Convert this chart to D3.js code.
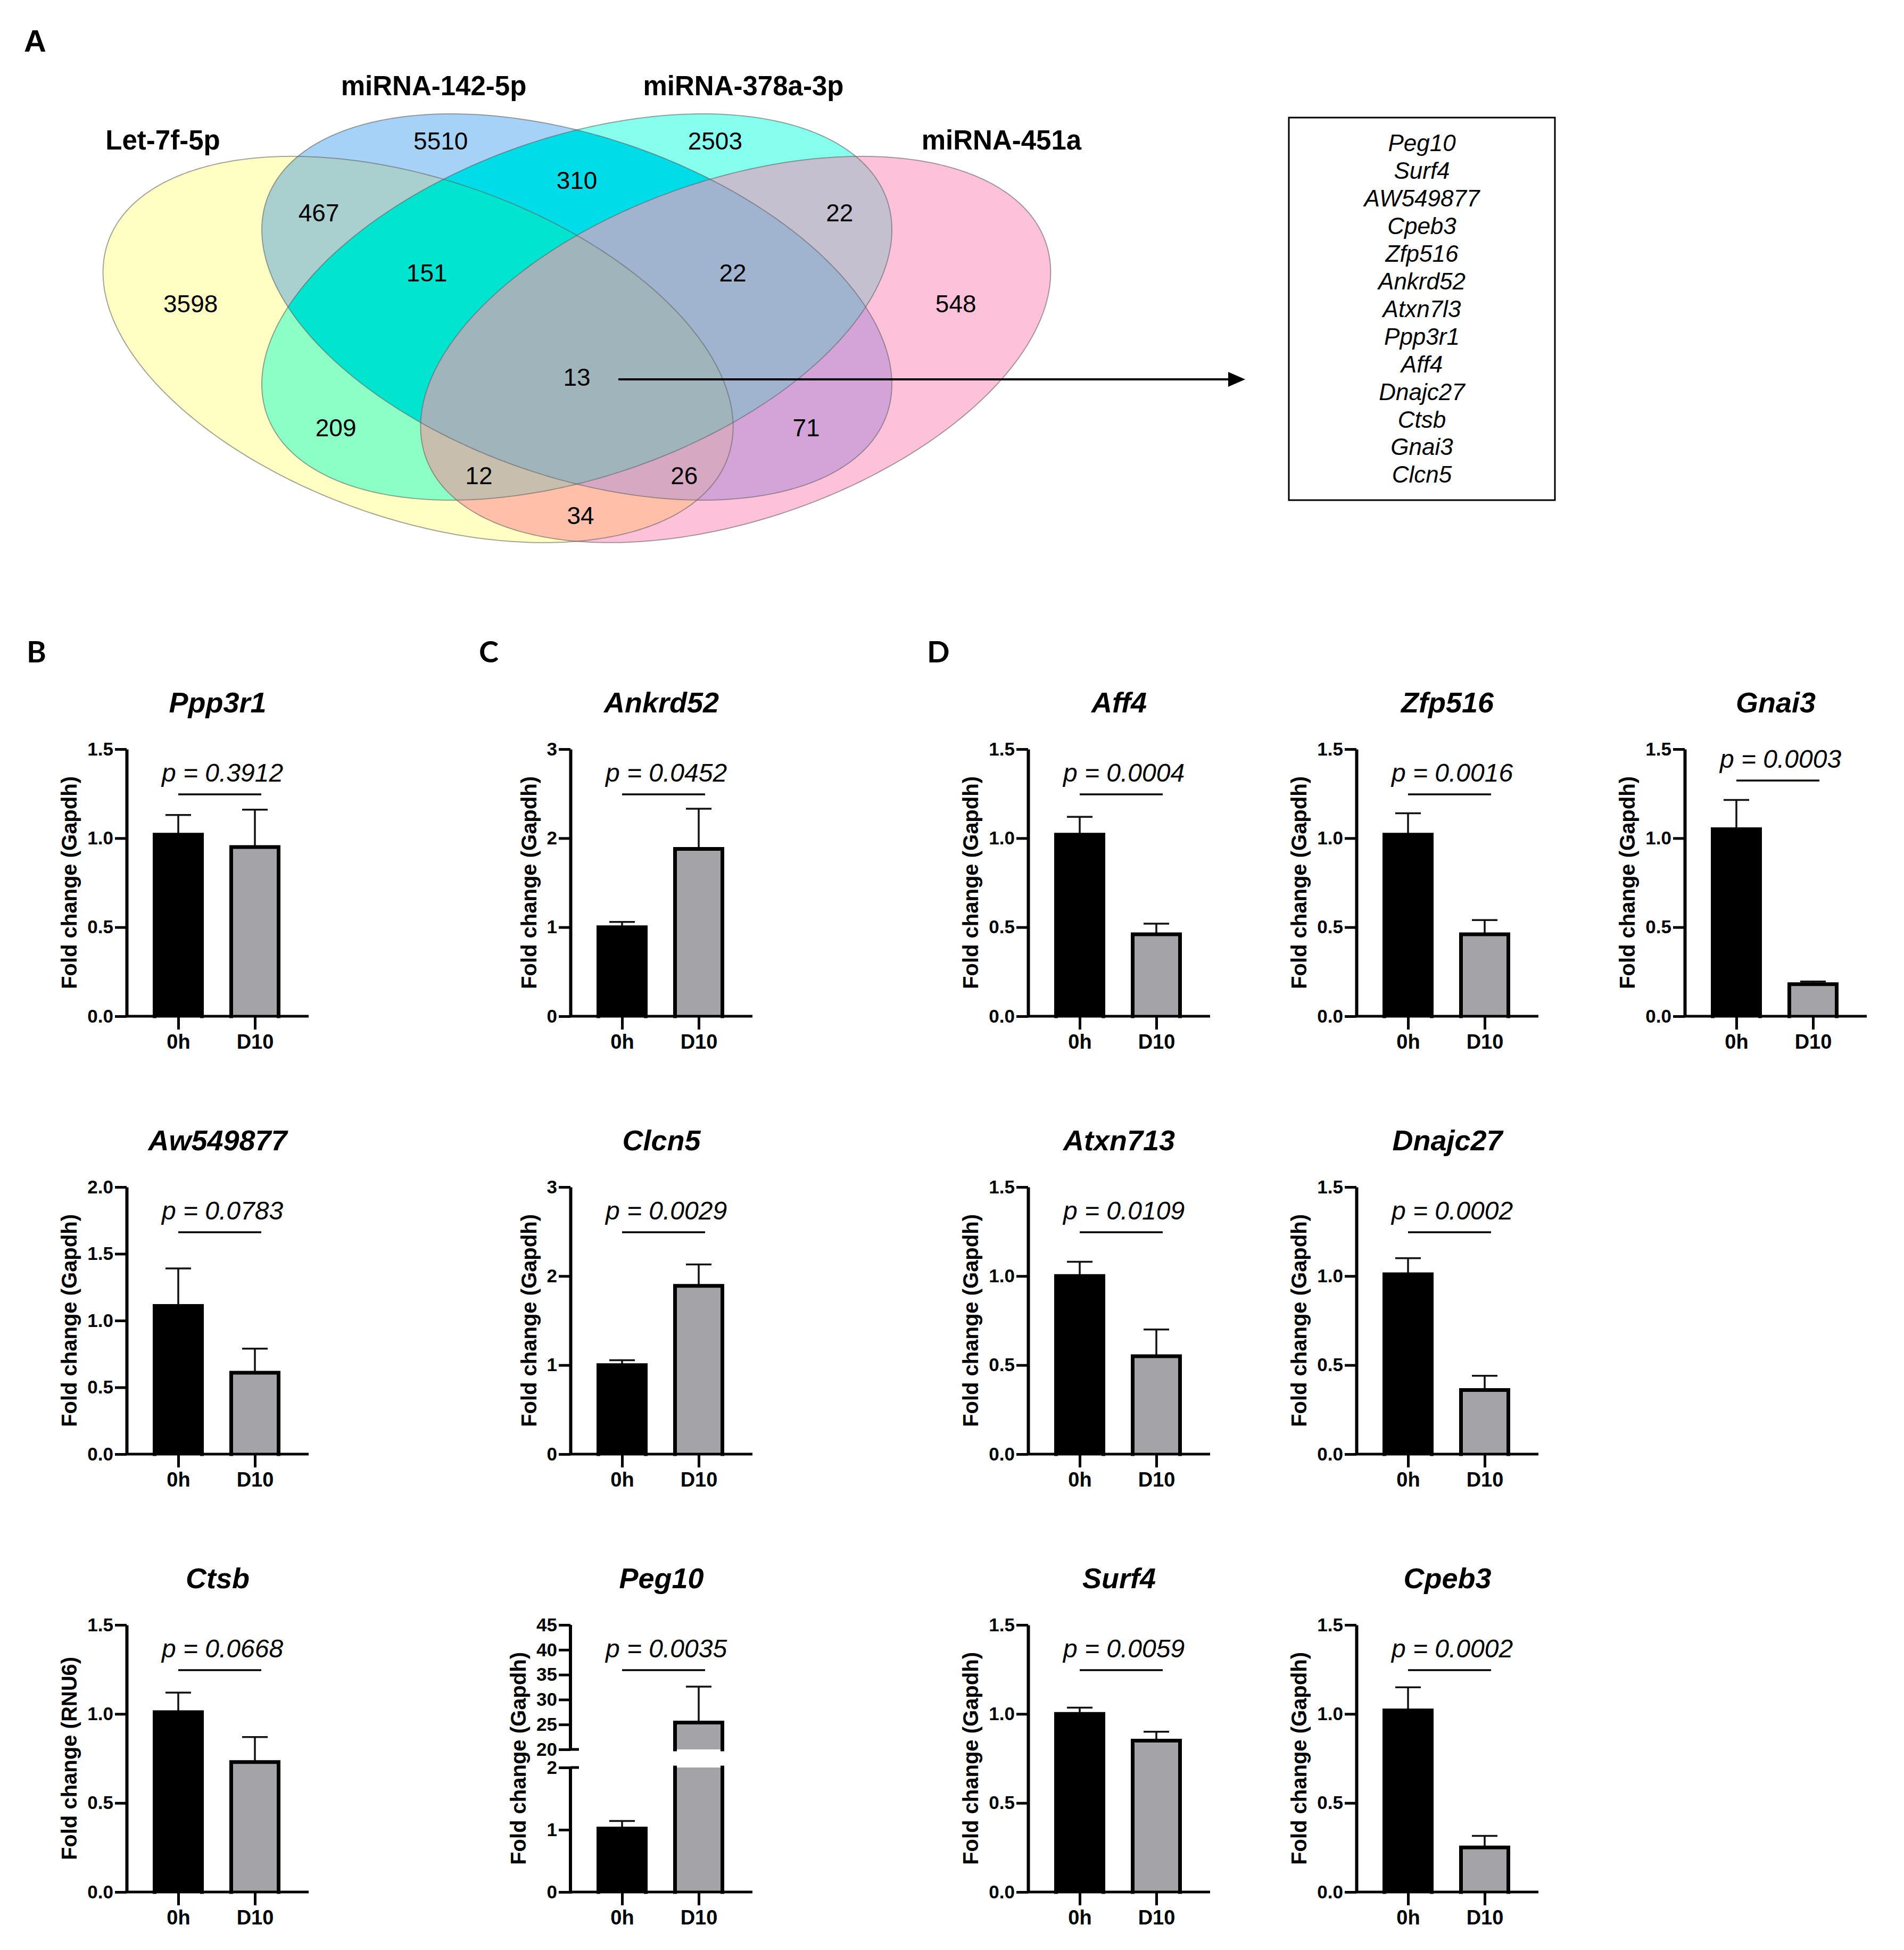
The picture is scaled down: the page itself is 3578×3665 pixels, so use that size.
<!DOCTYPE html>
<html>
<head>
<meta charset="utf-8">
<script src="https://cdn.jsdelivr.net/npm/d3@7"></script>
<style>
  body { margin: 0; background: #fff; }
  text { font-family: "Liberation Sans", Arial, sans-serif; fill: #000; }
</style>
</head>
<body>
<div id="fig"></div>
<script>
// ---- data: venn diagram ----
var vennSets = ["Let-7f-5p", "miRNA-142-5p", "miRNA-378a-3p", "miRNA-451a"];
// region codes: Y = Let-7f, B = 142, C = 378a, P = 451a
var vennRegions = ["Y", "B", "C", "P", "YB", "BC", "CP", "YBC", "BCP", "YBCP", "YC", "BP", "YCP", "YBP", "YP"];
var vennCounts = [3598, 5510, 2503, 548, 467, 310, 22, 151, 22, 13, 209, 71, 12, 26, 34];
var sharedGenes = ["Peg10", "Surf4", "AW549877", "Cpeb3", "Zfp516", "Ankrd52", "Atxn7l3",
                   "Ppp3r1", "Aff4", "Dnajc27", "Ctsb", "Gnai3", "Clcn5"];

// ---- data: qPCR bar charts ----
var groups = ["0h", "D10"];
var genes = ["Ppp3r1", "Ankrd52", "Aff4", "Zfp516", "Gnai3",
             "Aw549877", "Clcn5", "Atxn713", "Dnajc27",
             "Ctsb", "Peg10", "Surf4", "Cpeb3"];
var refGene = ["Gapdh", "Gapdh", "Gapdh", "Gapdh", "Gapdh",
               "Gapdh", "Gapdh", "Gapdh", "Gapdh",
               "RNU6", "Gapdh", "Gapdh", "Gapdh"];
var mean0h  = [1.02, 1.00, 1.02, 1.02, 1.05, 1.11, 1.00, 1.00, 1.01, 1.01, 1.02, 1.00, 1.02];
var err0h   = [0.11, 0.06, 0.10, 0.12, 0.165, 0.28, 0.055, 0.08, 0.09, 0.11, 0.12, 0.035, 0.13];
var meanD10 = [0.95, 1.88, 0.46, 0.46, 0.18, 0.61, 1.89, 0.55, 0.36, 0.73, 25.4, 0.85, 0.25];
var errD10  = [0.21, 0.45, 0.06, 0.08, 0.015, 0.18, 0.24, 0.15, 0.08, 0.14, 7.2, 0.05, 0.065];
var pValues = ["0.3912", "0.0452", "0.0004", "0.0016", "0.0003",
               "0.0783", "0.0029", "0.0109", "0.0002",
               "0.0668", "0.0035", "0.0059", "0.0002"];
var yTicks = [
  [0, 0.5, 1, 1.5], [0, 1, 2, 3], [0, 0.5, 1, 1.5], [0, 0.5, 1, 1.5], [0, 0.5, 1, 1.5],
  [0, 0.5, 1, 1.5, 2], [0, 1, 2, 3], [0, 0.5, 1, 1.5], [0, 0.5, 1, 1.5],
  [0, 0.5, 1, 1.5], [0, 1, 2, 20, 25, 30, 35, 40, 45], [0, 0.5, 1, 1.5], [0, 0.5, 1, 1.5]
];
var axisBreak = [null, null, null, null, null, null, null, null, null, null, [2, 20], null, null];

// ---- layout ----
var W = 3578, H = 3665;
var plotH = 502, axisLen = 342, barW = 96;
var colX = [238, 1072, 1932, 2549, 3166];
var rowY = [1910, 2733, 3556];
var chartCol = [0, 1, 2, 3, 4, 0, 1, 2, 3, 0, 1, 2, 3];
var chartRow = [0, 0, 0, 0, 0, 1, 1, 1, 1, 2, 2, 2, 2];
var bracketOff = [85, 85, 85, 85, 59, 85, 85, 85, 85, 85, 85, 85, 85];

var regionColor = {
  Y: "#FFFFC4", B: "#A6D2F7", C: "#86FFEE", P: "#FDC1D9",
  YB: "#A9CFCF", YC: "#8CFFC6", YP: "#FFBFA8", BC: "#00DDE8", BP: "#D4A4D8", CP: "#C4C0D0",
  YBC: "#00E4D0", YBP: "#D6A8C2", YCP: "#C8BEAE", BCP: "#A0B4D0", YBCP: "#A0B4BC"
};
var setCodes = ["Y", "B", "C", "P"];
// ellipse centres / tilt in normalised venn space
var ellCentre = [[-0.504, 0.22], [0, 0], [0, 0], [0.504, 0.22]];
var ellTilt = [45, 45, -45, -45];
var ellA = 1.183, ellB = 0.775;
var vennLabelPos = [[-1.226, -0.019], [-0.432, -0.862], [0.439, -0.862], [1.203, -0.019],
  [-0.819, -0.488], [0, -0.656], [0.834, -0.488], [-0.476, -0.179], [0.495, -0.179],
  [0, 0.361], [-0.765, 0.625], [0.728, 0.625], [-0.311, 0.871], [0.341, 0.871], [0.012, 1.077]];
var setLabelPos = [[306, 281], [815, 179], [1397, 179], [1882, 281]];

var svg = d3.select("#fig").append("svg")
    .attr("width", W)
    .attr("height", H);
svg.append("rect").attr("width", W).attr("height", H).attr("fill", "#fff");

// ================= panel A: venn =================
var vx = d3.scaleLinear().domain([-1, 1]).range([492, 1676]);
var vy = d3.scaleLinear().domain([-1, 1]).range([214, 940]);

function ellipsePts(k) {
  var phi = ellTilt[k] * Math.PI / 180, c = ellCentre[k];
  return d3.range(0, 360, 1).map(function(t) {
    t = t * Math.PI / 180;
    var u = ellA * Math.cos(t), v = ellB * Math.sin(t);
    return [c[0] + u * Math.cos(phi) - v * Math.sin(phi),
            c[1] + u * Math.sin(phi) + v * Math.cos(phi)];
  });
}
var ellLine = d3.line()
    .x(function(d) { return vx(d[0]); })
    .y(function(d) { return vy(d[1]); })
    .curve(d3.curveLinearClosed);

var defs = svg.append("defs");
setCodes.forEach(function(s, k) {
  defs.append("clipPath").attr("id", "clip" + s)
    .append("path").attr("d", ellLine(ellipsePts(k)));
});
vennRegions.forEach(function(r) {
  var m = defs.append("mask").attr("id", "mask" + r)
      .attr("maskUnits", "userSpaceOnUse")
      .attr("x", 0).attr("y", 0).attr("width", W).attr("height", 1200);
  m.append("rect").attr("width", W).attr("height", 1200).attr("fill", "#fff");
  setCodes.forEach(function(s, k) {
    if (r.indexOf(s) < 0)
      m.append("path").attr("d", ellLine(ellipsePts(k))).attr("fill", "#000");
  });
});

var venn = svg.append("g");
vennRegions.forEach(function(r) {
  var node = venn;
  r.split("").forEach(function(s) {
    node = node.append("g").attr("clip-path", "url(#clip" + s + ")");
  });
  node.append("rect")
    .attr("x", 0).attr("y", 0).attr("width", 2100).attr("height", 1100)
    .attr("fill", regionColor[r])
    .attr("mask", "url(#mask" + r + ")");
});
setCodes.forEach(function(s, k) {
  venn.append("path")
    .attr("d", ellLine(ellipsePts(k)))
    .attr("fill", "none")
    .attr("stroke", "rgba(90,90,90,0.55)")
    .attr("stroke-width", 2);
});

venn.selectAll(".count")
  .data(vennCounts)
  .enter().append("text")
    .attr("x", function(d, i) { return vx(vennLabelPos[i][0]); })
    .attr("y", function(d, i) { return vy(vennLabelPos[i][1]); })
    .attr("dy", "0.36em")
    .attr("text-anchor", "middle")
    .style("font-size", "46px")
    .text(function(d) { return d; });

venn.selectAll(".setlab")
  .data(vennSets)
  .enter().append("text")
    .attr("x", function(d, i) { return setLabelPos[i][0]; })
    .attr("y", function(d, i) { return setLabelPos[i][1]; })
    .attr("text-anchor", "middle")
    .style("font-size", "51px")
    .style("font-weight", "bold")
    .text(function(d) { return d; });

// arrow from the 4-way overlap to the gene list
var arrowY = vy(vennLabelPos[9][1]) + 5;
svg.append("line")
  .attr("x1", 1162).attr("x2", 2312)
  .attr("y1", arrowY).attr("y2", arrowY)
  .attr("stroke", "#000").attr("stroke-width", 4);
svg.append("path")
  .attr("d", "M2308," + (arrowY - 14) + "L2340," + arrowY + "L2308," + (arrowY + 14) + "Z")
  .attr("fill", "#000");

// gene list box
svg.append("rect")
  .attr("x", 2422).attr("y", 221).attr("width", 500).attr("height", 719)
  .attr("fill", "none").attr("stroke", "#000").attr("stroke-width", 3);
var listY = d3.scalePoint().domain(sharedGenes).range([269, 892]);
svg.selectAll(".gene")
  .data(sharedGenes)
  .enter().append("text")
    .attr("x", 2672)
    .attr("y", function(d) { return listY(d); })
    .attr("dy", "0.35em")
    .attr("text-anchor", "middle")
    .style("font-size", "44px")
    .style("font-style", "italic")
    .text(function(d) { return d; });

// panel letters
svg.append("text").attr("x", 45).attr("y", 97)
  .style("font-size", "58px").style("font-weight", "bold").text("A");
[["B", 50], ["C", 900], ["D", 1742]].forEach(function(p) {
  svg.append("text").attr("x", p[1]).attr("y", 1245)
    .style("font-family", "Lato, 'Open Sans', sans-serif")
    .style("font-size", "56px").style("font-weight", "bold").text(p[0]);
});

// ================= panels B-D: bar charts =================
function drawChart(i) {
  var g = svg.append("g")
      .attr("transform", "translate(" + colX[chartCol[i]] + "," + (rowY[chartRow[i]] - plotH) + ")");
  var ticks = yTicks[i], top = ticks[ticks.length - 1], brk = axisBreak[i];
  var y = d3.scaleLinear()
      .domain(brk ? [0, brk[0], brk[1], top] : [0, top])
      .range(brk ? [plotH, plotH / 2 + 17, plotH / 2 - 17, 0] : [plotH, 0]);
  var x = d3.scalePoint().domain(groups).range([97, 241]);
  var fmt = top <= 2 ? d3.format(".1f") : d3.format("d");
  var segs = brk ? [[0, brk[0]], [brk[1], top]] : [[0, top]];

  // bars
  var vals = [mean0h[i], meanD10[i]], errs = [err0h[i], errD10[i]];
  groups.forEach(function(gr, j) {
    var v = vals[j], cx = x(gr);
    var xl = cx - barW / 2 + 3.5, xr = cx + barW / 2 - 3.5;
    var fill = j === 0 ? "#000" : "#A4A4A8";
    // error bar (upper only)
    g.append("line")
      .attr("x1", cx).attr("x2", cx)
      .attr("y1", y(v)).attr("y2", y(v + errs[j]))
      .attr("stroke", "#111").attr("stroke-width", 3.5);
    g.append("line")
      .attr("x1", cx - 24).attr("x2", cx + 24)
      .attr("y1", y(v + errs[j])).attr("y2", y(v + errs[j]))
      .attr("stroke", "#111").attr("stroke-width", 3.5);
    segs.forEach(function(s) {
      if (v <= s[0]) return;
      var t = Math.min(v, s[1]);
      g.append("rect")
        .attr("x", xl).attr("width", xr - xl)
        .attr("y", y(t)).attr("height", y(s[0]) - y(t))
        .attr("fill", fill);
      var d = v <= s[1]
        ? "M" + xl + "," + y(s[0]) + "V" + y(t) + "H" + xr + "V" + y(s[0])
        : "M" + xl + "," + y(s[0]) + "V" + y(t) + "M" + xr + "," + y(t) + "V" + y(s[0]);
      g.append("path").attr("d", d)
        .attr("fill", "none").attr("stroke", "#000")
        .attr("stroke-width", 7).attr("stroke-linecap", "square");
    });
  });

  // y axis
  var yAx = g.append("g")
      .call(d3.axisLeft(y).tickValues(ticks).tickFormat(fmt)
            .tickSize(22).tickSizeOuter(0).tickPadding(3));
  yAx.select(".domain").attr("stroke-width", 6);
  yAx.selectAll(".tick line").attr("stroke-width", 5);
  yAx.selectAll("text").style("font-size", "35px").style("font-weight", "bold")
    .attr("font-family", null);
  if (brk) {
    yAx.select(".domain").remove();
    segs.forEach(function(s) {
      g.append("line").attr("x1", 0).attr("x2", 0)
        .attr("y1", y(s[0]) + (s[0] === 0 ? 3 : 0)).attr("y2", y(s[1]))
        .attr("stroke", "#000").attr("stroke-width", 6);
    });
    brk.forEach(function(b) {
      g.append("line").attr("x1", 0).attr("x2", 16)
        .attr("y1", y(b)).attr("y2", y(b))
        .attr("stroke", "#000").attr("stroke-width", 5);
    });
  }
  var bb = yAx.node().getBBox();

  // x axis
  g.append("line")
    .attr("x1", 0).attr("x2", axisLen)
    .attr("y1", plotH).attr("y2", plotH)
    .attr("stroke", "#000").attr("stroke-width", 5);
  var xAx = g.append("g")
      .attr("transform", "translate(0," + plotH + ")")
      .call(d3.axisBottom(x).tickSize(25).tickPadding(9));
  xAx.select(".domain").remove();
  xAx.selectAll(".tick line").attr("stroke-width", 5);
  xAx.selectAll("text").style("font-size", "38px").style("font-weight", "bold")
    .attr("font-family", null);

  // y label
  g.append("text")
    .attr("transform", "translate(" + (bb.x - 20) + "," + (plotH / 2) + ")rotate(-90)")
    .attr("text-anchor", "middle")
    .style("font-size", "40px")
    .style("font-weight", "bold")
    .text("Fold change (" + refGene[i] + ")");

  // title
  g.append("text")
    .attr("x", axisLen / 2).attr("y", -69)
    .attr("text-anchor", "middle")
    .style("font-size", "54px")
    .style("font-weight", "bold")
    .style("font-style", "italic")
    .text(genes[i]);

  // p value bracket
  var bx1 = x(groups[0]), bx2 = x(groups[1]) + 12, by = bracketOff[i];
  g.append("line")
    .attr("x1", bx1).attr("x2", bx2)
    .attr("y1", by).attr("y2", by)
    .attr("stroke", "#000").attr("stroke-width", 3.5);
  g.append("text")
    .attr("x", (bx1 + bx2) / 2 + 5).attr("y", by - 24)
    .attr("text-anchor", "middle")
    .style("font-size", "48px")
    .style("font-style", "italic")
    .text("p = " + pValues[i]);
}

genes.forEach(function(d, i) { drawChart(i); });
</script>
</body>
</html>
